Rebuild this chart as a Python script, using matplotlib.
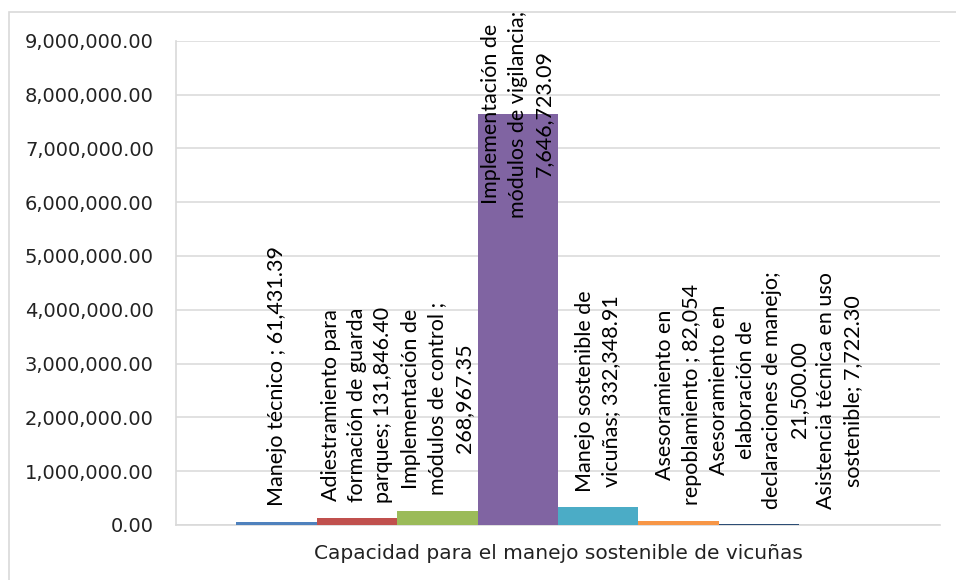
import matplotlib
matplotlib.use("Agg")
import matplotlib.pyplot as plt
from matplotlib.patches import Rectangle
from matplotlib.ticker import FuncFormatter

# ---- data ----
category = "Capacidad para el manejo sostenible de vicuñas"
names = [
    "Manejo técnico ;",
    "Adiestramiento para\nformación de guarda\nparques;",
    "Implementación de\nmódulos de control ;",
    "Implementación de\nmódulos de vigilancia;",
    "Manejo sostenible de\nvicuñas;",
    "Asesoramiento en\nrepoblamiento ;",
    "Asesoramiento en\nelaboración de\ndeclaraciones de manejo;",
    "Asistencia técnica en uso\nsostenible;",
]
values = [61431.39, 131846.40, 268967.35, 7646723.09, 332348.91, 82054, 21500.00, 7722.30]
value_formats = ["{:,.2f}", "{:,.2f}", "{:,.2f}", "{:,.2f}", "{:,.2f}", "{:,.0f}", "{:,.2f}", "{:,.2f}"]
label_seps = [" ", " ", "\n", "\n", " ", " ", "\n", " "]
colors = ["#4F81BD", "#C0504D", "#9BBB59", "#8064A2", "#4BACC6", "#F79646", "#2C4D75", "#772C2A"]
y_ticks = [0, 1000000, 2000000, 3000000, 4000000, 5000000, 6000000, 7000000, 8000000, 9000000]

# ---- figure ----
W, H = 956, 580
fig = plt.figure(figsize=(W / 100, H / 100), dpi=100)
fig.patch.set_facecolor("white")

# outer chart border
fig.patches.append(Rectangle((9 / W, -0.1), 1.2, 1 - 12 / H + 0.1, transform=fig.transFigure,
                             fill=False, edgecolor="#D9D9D9", linewidth=1.2))

ax = fig.add_axes([176 / W, 1 - 525 / H, (940 - 176) / W, (525 - 40.7) / H])
x = list(range(len(values)))
ax.bar(x, values, width=1.0, color=colors, zorder=3)

ax.set_xlim(-1.25, len(values) + 0.25)
ax.set_ylim(0, y_ticks[-1])
ax.set_yticks(y_ticks)
ax.yaxis.set_major_formatter(FuncFormatter(lambda v, p: "{:,.2f}".format(v)))
ax.tick_params(axis="y", length=0, pad=16, labelsize=14, labelcolor="#222222")
ax.set_xticks([])
ax.grid(axis="y", color="#D9D9D9", linewidth=1.1, zorder=0)
for s in ["top", "right"]:
    ax.spines[s].set_visible(False)
for s in ["left", "bottom"]:
    ax.spines[s].set_color("#D9D9D9")
    ax.spines[s].set_linewidth(1.2)

ax.text(0.5, -0.058, category, transform=ax.transAxes, ha="center", va="center",
        fontsize=14.5, color="#222222", family="DejaVu Sans")

top = y_ticks[-1]
for i, v in enumerate(values):
    label = names[i] + label_seps[i] + value_formats[i].format(v)
    if v > 0.6 * top:
        ax.annotate(label, xy=(i, top), xytext=(0, 22), textcoords="offset points",
                    rotation=90, ha="center", va="top", multialignment="center",
                    fontsize=15.5, family="Lato", color="black", linespacing=1.4,
                    annotation_clip=False, zorder=5)
    else:
        ax.annotate(label, xy=(i, v), xytext=(0, 11), textcoords="offset points",
                    rotation=90, ha="center", va="bottom", multialignment="center",
                    fontsize=15.5, family="Lato", color="black", linespacing=1.4,
                    annotation_clip=False, zorder=5)

fig.savefig("out.png", dpi=100)
